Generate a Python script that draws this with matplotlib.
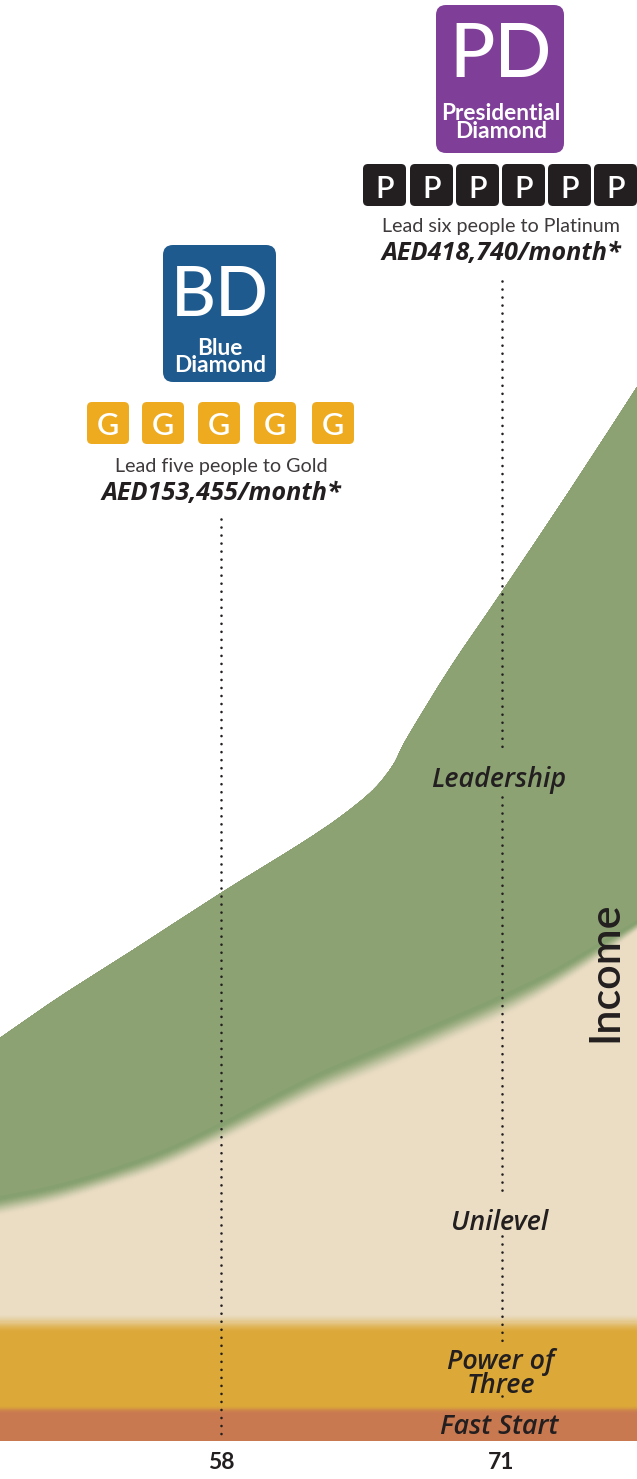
import numpy as np
import matplotlib
matplotlib.use("Agg")
import matplotlib.pyplot as plt
from matplotlib.colors import to_rgb
from matplotlib.patches import FancyBboxPatch, PathPatch
from matplotlib.path import Path

plt.rcParams['font.family'] = ['Lato', 'DejaVu Sans']
WIDE = ['Open Sans', 'Lato', 'DejaVu Sans']

# curves (pixel scale)
TOP_X = [0, 33, 70, 133, 221, 300, 340, 373, 393, 407, 450, 501.7, 570, 637]
TOP_Y = [1038, 1015, 990, 950, 893, 844, 817, 790, 765, 738, 668, 592, 490, 387]
LOW_X = [0, 50, 100, 160, 220, 270, 320, 370, 420, 460, 501, 545, 587, 637]
LOW_Y = [1198, 1188, 1174, 1153, 1125, 1099, 1074, 1053, 1032, 1015, 997, 976, 952, 922]
LOW_BLUR = [19, 18, 17, 18, 19, 21, 23, 24, 24, 23, 23, 20, 17, 10]

BAND_EDGES = [1332, 1413, 1441]
BAND_BLUR = [19, 8]

AGE_POS = [221, 501.5]
AGE_LABELS = ['58', '71']
DOTS_58 = [(519, 1434)]
DOTS_71 = [(281, 752), (797, 1192), (1236, 1347), (1396, 1397)]

GREEN, GREEN_EDGE, BEIGE, GOLD, ORANGE = '#8CA273', '#86A06F', '#EADDC4', '#DCA838', '#C97950'
INK = '#231F20'

P_BOX_X = [363, 410, 456, 502, 548, 594]
G_BOX_X = [87, 142, 198, 254, 312]

fig = plt.figure(figsize=(6.37, 14.79), dpi=100, facecolor='white')
ax = fig.add_axes([0, 38 / 1479, 1, 1441 / 1479])
ax.set_xlim(0, 637)
ax.set_ylim(1441, 0)
for s in ax.spines.values():
    s.set_visible(False)
ax.set_yticks([])
ax.set_xticks(AGE_POS, AGE_LABELS, fontsize=16.5, fontweight='bold', color=INK)
ax.tick_params(axis='x', length=0, pad=8)


def mix(a, b, t):
    a, b = np.array(to_rgb(a)), np.array(to_rgb(b))
    return tuple(a + (b - a) * t)


def smooth(xs, ys):
    """Bezier control points through the read points (Catmull-Rom)."""
    p = np.column_stack([xs, ys]).astype(float)
    q = np.vstack([p[0], p, p[-1]])
    verts = []
    for i in range(1, len(q) - 2):
        verts += [q[i] + (q[i + 1] - q[i - 1]) / 6, q[i + 1] - (q[i + 2] - q[i]) / 6, q[i + 1]]
    return p[0], verts


def band_path(x0, y0, x1, y1):
    s0, v0 = smooth(x0, y0)
    s1, v1 = smooth(x1[::-1], y1[::-1])
    verts = [s0] + v0 + [s1] + v1 + [s0]
    codes = [Path.MOVETO] + [Path.CURVE4] * len(v0) + [Path.LINETO] + [Path.CURVE4] * len(v1) + [Path.CLOSEPOLY]
    return Path(verts, codes)


low_x, low_y, blur = np.array(LOW_X), np.array(LOW_Y), np.array(LOW_BLUR)
top_x, top_y = np.array(TOP_X), np.array(TOP_Y)

# beige body, with the white area above the top curve kept clear
ax.fill_between([0, 637], 915, 1441, color=BEIGE, lw=0, zorder=1)
s, v = smooth(top_x, top_y)
mask = Path([s] + v + [(637, 0), (0, 0), s],
            [Path.MOVETO] + [Path.CURVE4] * len(v) + [Path.LINETO, Path.LINETO, Path.CLOSEPOLY])
ax.add_patch(PathPatch(mask, fc='white', ec='none', zorder=1.5))

# green body, feathered lower edge drawn as stacked layers
N = 18
for k in range(N, 0, -1):
    t = k / N
    c = mix(GREEN_EDGE, BEIGE, t * t * (3 - 2 * t))
    ax.add_patch(PathPatch(band_path(top_x, top_y, low_x, low_y + blur * t), fc=c, ec='none', zorder=2))
ax.add_patch(PathPatch(band_path(top_x, top_y, low_x, low_y), fc=GREEN_EDGE, ec='none', zorder=2))
for k in range(8, -1, -1):
    ax.add_patch(PathPatch(band_path(top_x, top_y, low_x, low_y - 2 - k),
                           fc=mix(GREEN, GREEN_EDGE, k / 8), ec='none', zorder=2))

# horizontal bands with feathered tops
for edge, b, c0, c1 in [(BAND_EDGES[0], BAND_BLUR[0], BEIGE, GOLD),
                        (BAND_EDGES[1], BAND_BLUR[1], GOLD, ORANGE)]:
    for k in range(N, 0, -1):
        t = k / N
        ax.axhspan(edge - b * t, BAND_EDGES[2], color=mix(c1, c0, t * t * (3 - 2 * t)), lw=0, zorder=3)
    ax.axhspan(edge, BAND_EDGES[2], color=c1, lw=0, zorder=3)

# dotted guides
for x, segs in [(AGE_POS[0], DOTS_58), (AGE_POS[1], DOTS_71)]:
    for a, b in segs:
        ax.plot([x, x], [a, b], color=INK, lw=1.9, ls=(0, (0.01, 3.03)),
                dash_capstyle='round', zorder=4)


def box(x0, y0, x1, y1, r, color):
    ax.add_patch(FancyBboxPatch((x0 + r, y0 + r), x1 - x0 - 2 * r, y1 - y0 - 2 * r,
                                boxstyle=f"round,pad={r},rounding_size={r}",
                                fc=color, ec='none', zorder=5))


def txt(x, y, s, size, weight='normal', style='normal', color=INK, **kw):
    ax.text(x, y, s, fontsize=size, fontweight=weight, fontstyle=style, color=color,
            ha=kw.pop('ha', 'center'), va=kw.pop('va', 'baseline'), zorder=6, **kw)


# Presidential Diamond
box(436, 5, 564, 153, 10, '#7F3F98')
txt(501, 77, 'PD', 54, 'medium', color='white')
txt(501, 138, 'Presidential\nDiamond', 16.3, 'bold', color='white', linespacing=0.8, multialignment='center')
for x in P_BOX_X:
    box(x, 164, x + 43, 206, 5, INK)
    txt(x + 21.5, 198, 'P', 22, 'semibold', color='white')
txt(501, 232, 'Lead six people to Platinum', 14.2, color='#3f3b3c')
txt(501, 260, 'AED418,740/month*', 18.2, 'bold', 'italic', family=WIDE)

# Blue Diamond
box(163, 245, 276, 382, 10, '#1F5A8E')
txt(220, 316, 'BD', 50, 'medium', color='white')
txt(220, 372, 'Blue\nDiamond', 16.3, 'bold', color='white', linespacing=0.78, multialignment='center')
for x in G_BOX_X:
    box(x, 402, x + 42, 444, 5, '#EEAB20')
    txt(x + 21, 435, 'G', 22, 'semibold', color='white')
txt(221, 472, 'Lead five people to Gold', 14.2, color='#3f3b3c')
txt(221, 500, 'AED153,455/month*', 18.2, 'bold', 'italic', family=WIDE)

# stream labels
LBL = dict(weight='semibold', style='italic', family=WIDE)
txt(499, 787, 'Leadership', 19.4, **LBL)
txt(500, 1230, 'Unilevel', 19.4, **LBL)
txt(501, 1393, 'Power of\nThree', 19.4, linespacing=0.8, multialignment='center', **LBL)
txt(499, 1434, 'Fast Start', 19.4, **LBL)
ax.text(617, 972, 'Income', fontsize=31, fontweight='semibold', color=INK, rotation=90,
        ha='center', va='baseline', rotation_mode='anchor', zorder=6)

fig.savefig('out.png', dpi=100, facecolor='white')
